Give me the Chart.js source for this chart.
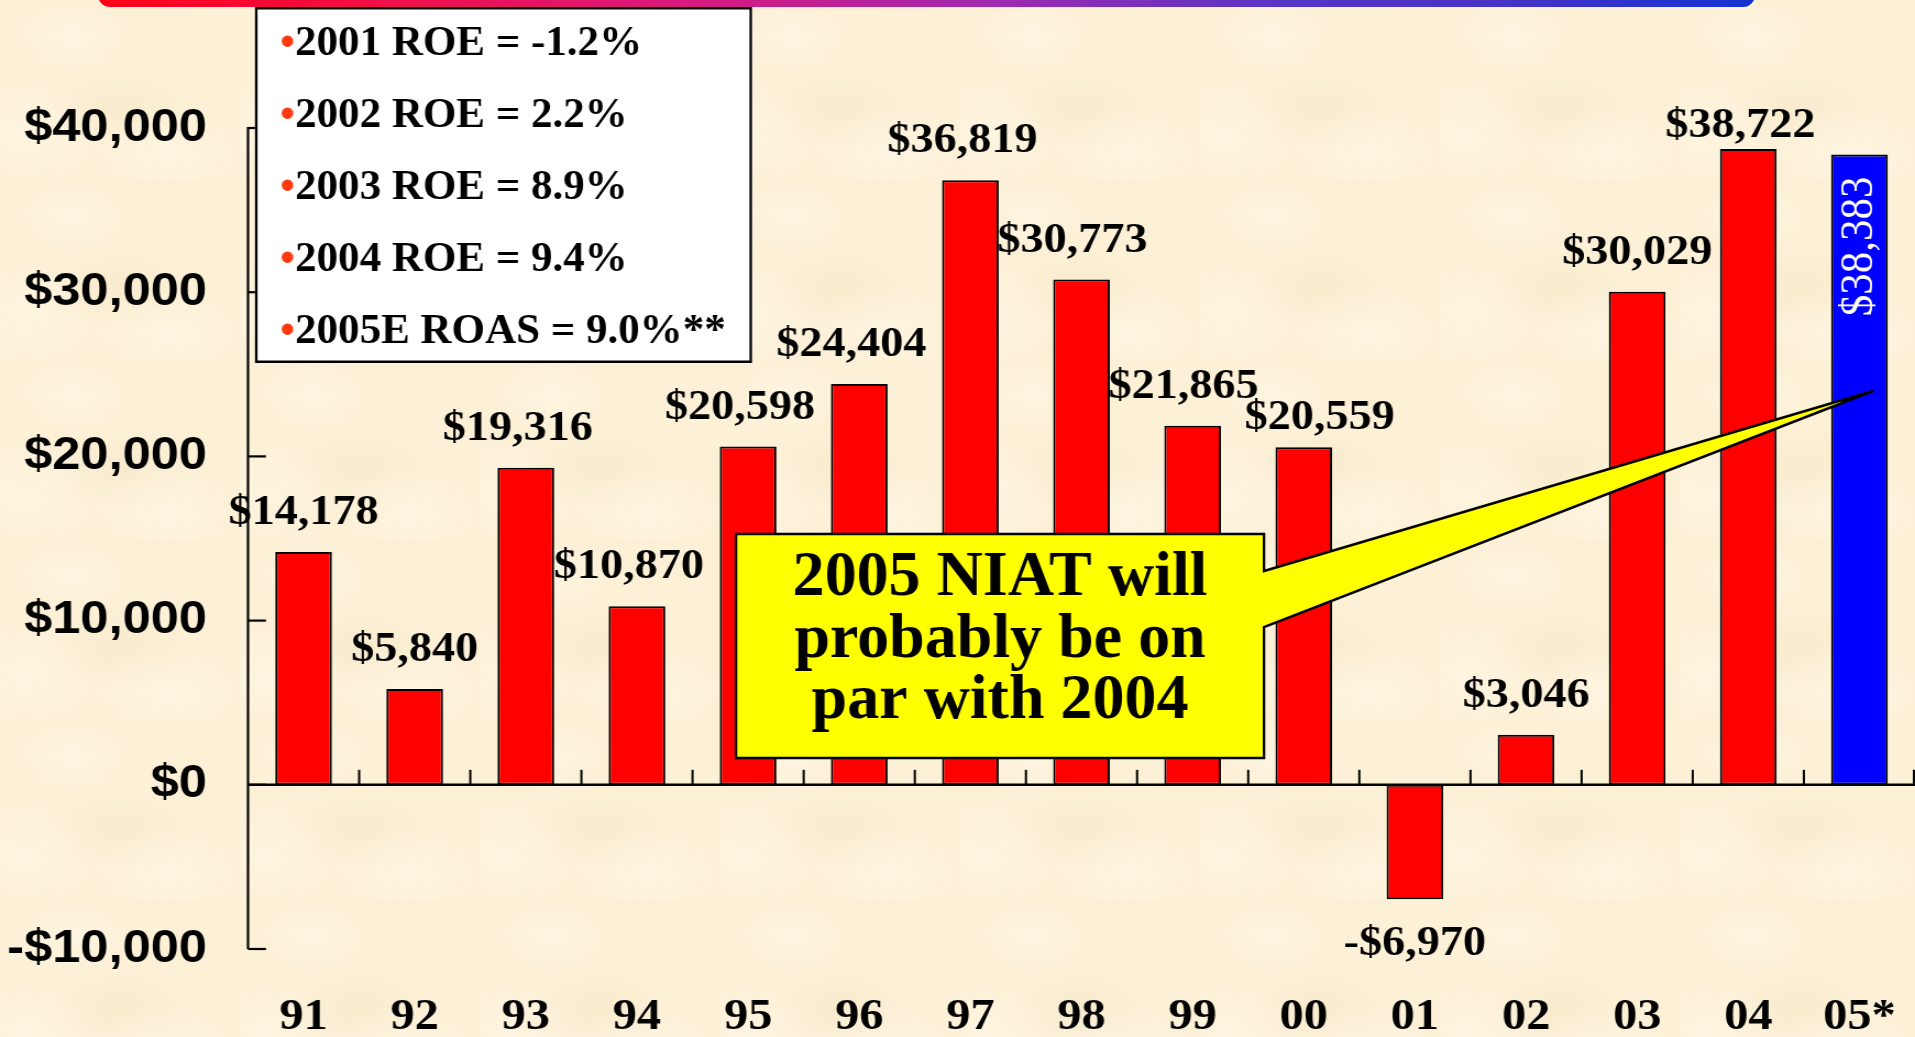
<!DOCTYPE html>
<html>
<head>
<meta charset="utf-8">
<title>NIAT 1991 - 2005</title>
<script src="https://cdn.jsdelivr.net/npm/chart.js@4.4.1/dist/chart.umd.min.js"></script>
<style>
  html, body { margin: 0; padding: 0; }
  body {
    width: 1915px; height: 1037px; overflow: hidden; position: relative;
    background-color: #fcf0d6;
    background-image:
      radial-gradient(ellipse 60px 40px at 30% 20%, rgba(255,250,235,0.5), transparent),
      radial-gradient(ellipse 80px 50px at 70% 85%, rgba(255,250,235,0.5), transparent),
      radial-gradient(ellipse 70px 40px at 50% 60%, rgba(240,225,190,0.35), transparent),
      radial-gradient(ellipse 90px 60px at 10% 75%, rgba(255,250,235,0.45), transparent);
    background-size: 240px 180px;
  }
  #banner {
    position: absolute; left: 98px; top: -20px; width: 1657px; height: 27px;
    border-radius: 0 0 12px 12px;
    background: linear-gradient(90deg, #ff0018 0%, #f0104a 18%, #d81a80 36%, #a02ab0 54%, #5535c5 72%, #4a32c4 84%, #1432d2 100%);
  }
  #wrap { position: absolute; left: 0; top: 0; width: 1741px; height: 1037px; transform-origin: 0 0; }
</style>
</head>
<body>
<div id="banner"></div>
<div id="wrap"><canvas id="niatChart"></canvas></div>
<script>
document.addEventListener('DOMContentLoaded', function() {
    // --- DATOS ---
    const years = ['91', '92', '93', '94', '95', '96', '97', '98', '99', '00', '01', '02', '03', '04', '05*'];
    const niat = [14178, 5840, 19316, 10870, 20598, 24404, 36819, 30773, 21865, 20559, -6970, 3046, 30029, 38722, 38383];
    const yTicks = [-10000, 0, 10000, 20000, 30000, 40000];
    const roeNotes = ['2001 ROE = -1.2%', '2002 ROE = 2.2%', '2003 ROE = 8.9%', '2004 ROE = 9.4%', '2005E ROAS = 9.0%**'];
    const calloutLines = ['2005 NIAT will', 'probably be on', 'par with 2004'];
    const calloutTarget = 24000; // where the pointer lands on the 05* bar
    const estimateYear = '05*';

    // the slide's chart was stretched sideways, so the canvas is drawn narrow and scaled up
    const SX = 1915 / 1741;
    const wrap = document.getElementById('wrap');
    wrap.style.transform = 'scaleX(' + SX + ')';

    const serif = '"Liberation Serif", "Times New Roman", serif';
    const sans = '"Liberation Sans", Arial, sans-serif';

    // hand-placed labels in the original (page px)
    const labelNudge = {
        '93': [-8, 0], '94': [-8, 0], '95': [-8, 0], '96': [-8, 0], '97': [-8, 0], '98': [-9, 0],
        '99': [-9, 0], '00': [16, 10], '04': [-8, 16]
    };

    function money(v) {
        const s = '$' + Math.abs(v).toLocaleString('en-US');
        return v < 0 ? '-' + s : s;
    }

    function line(ctx, x1, y1, x2, y2) {
        ctx.beginPath();
        ctx.moveTo(x1, y1);
        ctx.lineTo(x2, y2);
        ctx.stroke();
    }

    // --- EJES, ETIQUETAS Y ANOTACIONES ---
    const decor = {
        id: 'decor',
        afterDatasetsDraw(chart) {
            const { ctx, chartArea: area } = chart;
            const x = chart.scales.x, y = chart.scales.y;
            const y0 = y.getPixelForValue(0);
            const half = (x.getPixelForValue(1) - x.getPixelForValue(0)) / 2;

            ctx.save();
            ctx.strokeStyle = '#000';
            // y axis + inward ticks
            ctx.lineWidth = 2.4 / SX;
            line(ctx, area.left, y.getPixelForValue(yTicks[yTicks.length - 1]) - 1, area.left, y.getPixelForValue(yTicks[0]));
            ctx.lineWidth = 2.2;
            yTicks.forEach(v => {
                const py = y.getPixelForValue(v);
                line(ctx, area.left, py, area.left + 18 / SX, py);
            });
            // x axis on zero + upward ticks between categories
            ctx.lineWidth = 2.6;
            line(ctx, area.left, y0, area.right, y0);
            ctx.lineWidth = 2.2 / SX;
            years.forEach((_, i) => {
                const bx = Math.min(x.getPixelForValue(i) + half, area.right - 1);
                line(ctx, bx, y0, bx, y0 - 15);
            });

            // value labels
            const meta = chart.getDatasetMeta(0);
            ctx.fillStyle = '#000';
            ctx.textAlign = 'center';
            ctx.textBaseline = 'alphabetic';
            ctx.font = 'bold 42px ' + serif;
            meta.data.forEach((bar, i) => {
                const v = niat[i];
                if (years[i] === estimateYear) return;
                const n = labelNudge[years[i]] || [0, 0];
                const by = v >= 0 ? bar.y - 28 : bar.y + 56;
                ctx.fillText(money(v), bar.x + n[0] / SX, by + n[1]);
            });

            // rotated white label inside the estimate bar
            const est = meta.data[years.indexOf(estimateYear)];
            ctx.save();
            ctx.translate(est.x, est.y + 22);
            ctx.rotate(-Math.PI / 2);
            ctx.fillStyle = '#fff';
            ctx.font = '43px ' + serif;
            ctx.textAlign = 'right';
            ctx.textBaseline = 'middle';
            ctx.fillText(money(niat[years.indexOf(estimateYear)]), 0, 0);
            ctx.restore();
            ctx.restore();
        },
        afterDraw(chart) {
            const { ctx } = chart;
            const y = chart.scales.y;
            const est = chart.getDatasetMeta(0).data[years.indexOf(estimateYear)];
            const tipX = (est.x + est.width * 0.25) * SX;
            const tipY = y.getPixelForValue(calloutTarget);

            ctx.save();
            ctx.scale(1 / SX, 1); // from here on: page pixels, unstretched text

            // callout with pointer
            ctx.beginPath();
            ctx.moveTo(736, 534);
            ctx.lineTo(1264, 534);
            ctx.lineTo(1264, 571);
            ctx.lineTo(tipX, tipY);
            ctx.lineTo(1264, 627);
            ctx.lineTo(1264, 758);
            ctx.lineTo(736, 758);
            ctx.closePath();
            ctx.fillStyle = '#ffff00';
            ctx.fill();
            ctx.lineWidth = 2.5;
            ctx.strokeStyle = '#000';
            ctx.stroke();
            ctx.fillStyle = '#000';
            ctx.font = 'bold 64px ' + serif;
            ctx.textAlign = 'center';
            ctx.textBaseline = 'alphabetic';
            calloutLines.forEach((t, i) => ctx.fillText(t, 1000, 595 + i * 61.5));

            // ROE box
            ctx.fillStyle = '#fff';
            ctx.fillRect(255, 7, 497, 356);
            ctx.lineWidth = 2.5;
            ctx.strokeRect(256.25, 8.25, 494.5, 353.5);
            ctx.font = 'bold 43px ' + serif;
            ctx.textAlign = 'left';
            roeNotes.forEach((t, i) => {
                const by = 55 + i * 72;
                ctx.fillStyle = '#ff3a10';
                ctx.fillText('\u2022', 280, by);
                ctx.fillStyle = '#000';
                ctx.fillText(t, 280 + ctx.measureText('\u2022').width, by);
            });
            ctx.restore();
        }
    };

    // --- GRÁFICO ---
    new Chart(document.getElementById('niatChart').getContext('2d'), {
        type: 'bar',
        data: {
            labels: years,
            datasets: [{
                data: niat,
                backgroundColor: years.map(yr => yr === estimateYear ? '#0000ff' : '#ff0000'),
                borderColor: '#000',
                borderWidth: 2,
                borderSkipped: false,
                barPercentage: 0.51,
                categoryPercentage: 1
            }]
        },
        options: {
            responsive: true,
            maintainAspectRatio: false,
            animation: false,
            layout: { padding: { top: 128, left: 0, right: 0, bottom: 0 } },
            plugins: { legend: { display: false }, tooltip: { enabled: false } },
            scales: {
                x: {
                    offset: true,
                    grid: { display: false, drawTicks: false },
                    border: { display: false },
                    ticks: {
                        color: '#000',
                        font: { family: serif, size: 44, weight: 'bold' },
                        padding: 42,
                        autoSkip: false,
                        maxRotation: 0
                    },
                    afterFit: s => {
                        s.height = 88;
                        s.paddingLeft = 0;
                        s.paddingRight = 0;
                    }
                },
                y: {
                    min: yTicks[0],
                    max: yTicks[yTicks.length - 1],
                    grid: { display: false, drawTicks: false },
                    border: { display: false },
                    afterBuildTicks: s => { s.ticks = yTicks.map(v => ({ value: v })); },
                    ticks: {
                        color: '#000',
                        font: { family: sans, size: 46, weight: 'bold' },
                        padding: 41 / SX,
                        callback: v => money(v)
                    },
                    afterFit: s => {
                        s.width = 248 / SX;
                        s.paddingTop = 0;
                        s.paddingBottom = 0;
                    }
                }
            }
        },
        plugins: [decor]
    });
});
</script>
</body>
</html>
